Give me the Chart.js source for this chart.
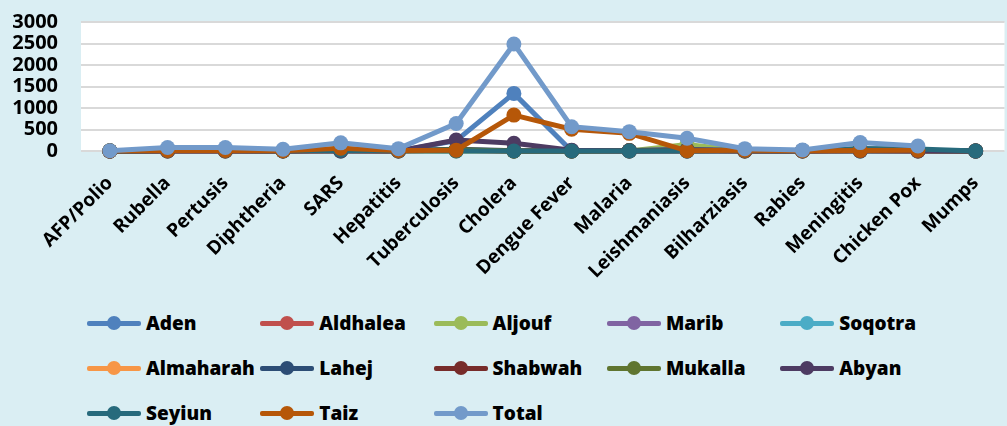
<!DOCTYPE html>
<html>
<head>
<meta charset="utf-8">
<script src="https://cdn.jsdelivr.net/npm/chart.js@4.4.0/dist/chart.umd.min.js"></script>
<style>
  html, body { margin: 0; padding: 0; background: #daeef3; overflow: hidden; }
  #wrap { position: relative; width: 1007px; height: 426px; overflow: hidden; }
  #diseaseChart { position: absolute; left: 0; top: -13px; }
  #legend { position: absolute; left: 0; top: 0; font-family: "Open Sans"; font-weight: 800; font-size: 19px; color: #000; }
  .item { position: absolute; display: flex; align-items: center; height: 24px; white-space: nowrap; }
  .mark { position: relative; width: 54px; height: 14px; margin-right: 5px; }
  .mark .ln { position: absolute; left: 0; right: 0; top: 5px; height: 5px; border-radius: 2px; }
  .mark .dot { position: absolute; left: 20px; top: 0; width: 14px; height: 14px; border-radius: 50%; }
</style>
</head>
<body>
<div id="wrap">
  <canvas id="diseaseChart" width="1012" height="313"></canvas>
  <div id="legend"></div>
</div>
<script>
var categories = ["AFP/Polio", "Rubella", "Pertusis", "Diphtheria", "SARS", "Hepatitis",
  "Tuberculosis", "Cholera", "Dengue Fever", "Malaria", "Leishmaniasis", "Bilharziasis",
  "Rabies", "Meningitis", "Chicken Pox", "Mumps"];

// cases per governorate
var aden      = [0, 0, 0, 0, 0, 0, 240, 1340, 0, 0, 0, 0, 0, 0, 0, 0];
var aldhalea  = [0, 5, 5, 0, 10, 5, 20, 10, 0, 5, 20, 5, 0, 10, 5, 0];
var aljouf    = [0, 0, 0, 0, 0, 0, 0, 0, 0, 0, 150, 0, 0, 0, 0, 0];
var marib     = [0, 5, 5, 5, 10, 5, 20, 5, 5, 5, 40, 5, 5, 10, 5, 0];
var soqotra   = [0, 0, 0, 0, 0, 0, 5, 0, 0, 0, 0, 0, 0, 0, 0, 0];
var almaharah = [0, 0, 0, 0, 5, 0, 10, 0, 0, 0, 0, 0, 0, 5, 0, 0];
var lahej     = [0, 10, 10, 5, 20, 10, 40, 5, 0, 10, 30, 10, 5, 20, 10, 0];
var shabwah   = [0, 5, 5, 5, 10, 5, 20, 0, 0, 5, 20, 5, 5, 10, 5, 0];
var mukalla   = [5, 10, 10, 5, 20, 5, 30, 0, 0, 5, 20, 5, 5, 15, 10, 0];
var abyan     = [0, 0, 0, 0, 0, 0, 255, 180, 20, 0, 0, 0, 0, 0, 0, 0];
var seyiun    = [0, 10, 10, 5, 20, 5, 0, 0, 0, 0, 0, 10, 5, 60, 45, 0];
var taiz      = [0, 10, 10, 5, 65, 10, 20, 835, 505, 410, 5, 15, 5, 10, 15, null];
var total     = [5, 80, 80, 40, 190, 55, 640, 2490, 565, 450, 295, 55, 25, 195, 115, null];

var yTicks = [0, 500, 1000, 1500, 2000, 2500, 3000];

var seriesNames = ["Aden", "Aldhalea", "Aljouf", "Marib", "Soqotra", "Almaharah", "Lahej",
  "Shabwah", "Mukalla", "Abyan", "Seyiun", "Taiz", "Total"];
var seriesData = [aden, aldhalea, aljouf, marib, soqotra, almaharah, lahej,
  shabwah, mukalla, abyan, seyiun, taiz, total];
var colors = ["#4F81BD", "#C0504D", "#9BBB59", "#8064A2", "#4BACC6", "#F79646", "#2C4D75",
  "#772C2A", "#5F7530", "#4D3B62", "#276A7C", "#B65708", "#729ACA"];

var datasets = seriesNames.map(function (name, i) {
  return {
    label: name,
    data: seriesData[i],
    borderColor: colors[i],
    backgroundColor: colors[i],
    borderWidth: 5,
    pointRadius: 7.5,
    pointHoverRadius: 7.5,
    pointBorderWidth: 0,
    clip: false,
    order: seriesNames.length - 1 - i  // later series on top, like Excel
  };
});

var plotBg = {
  id: "plotBg",
  beforeDraw: function (chart) {
    var c = chart.ctx, a = chart.chartArea;
    c.save();
    c.fillStyle = "#ffffff";
    c.fillRect(a.left, a.top, a.right - a.left, a.bottom - a.top);
    c.restore();
  }
};

var ctx = document.getElementById("diseaseChart").getContext("2d");
var diseaseChart = new Chart(ctx, {
  type: "line",
  data: { labels: categories, datasets: datasets },
  plugins: [plotBg],
  options: {
    responsive: false,
    animation: false,
    layout: { padding: { top: 8, right: 0, bottom: 0, left: 0 } },
    plugins: { legend: { display: false }, tooltip: { enabled: false } },
    scales: {
      x: {
        offset: true,
        grid: { display: false },
        border: { display: false },
        ticks: {
          color: "#000",
          font: { family: "Open Sans", weight: "bold", size: 19 },
          minRotation: 45, maxRotation: 45, autoSkip: false, padding: 13
        },
        afterFit: function (s) { s.height = 149; }
      },
      y: {
        min: 0, max: 3000,
        afterBuildTicks: function (s) { s.ticks = yTicks.map(function (v) { return { value: v }; }); },
        ticks: {
          color: "#000",
          font: { family: "Open Sans", weight: "bold", size: 20 },
          padding: 23,
          autoSkip: false,
          callback: function (v) { return String(v); }
        },
        grid: { color: "#d9d9d9", lineWidth: 2, drawTicks: false },
        border: { display: false },
        afterFit: function (s) { s.width = 81; }
      }
    }
  }
});

// legend laid out in a 5-column grid like the original
var legend = document.getElementById("legend");
seriesNames.forEach(function (name, i) {
  var col = i % 5, row = Math.floor(i / 5);
  var item = document.createElement("div");
  item.className = "item";
  item.style.left = (87 + col * 173.3) + "px";
  item.style.top = (311 + row * 45) + "px";
  item.innerHTML = '<span class="mark"><span class="ln" style="background:' + colors[i] +
    '"></span><span class="dot" style="background:' + colors[i] + '"></span></span>' + name;
  legend.appendChild(item);
});
</script>
</body>
</html>
